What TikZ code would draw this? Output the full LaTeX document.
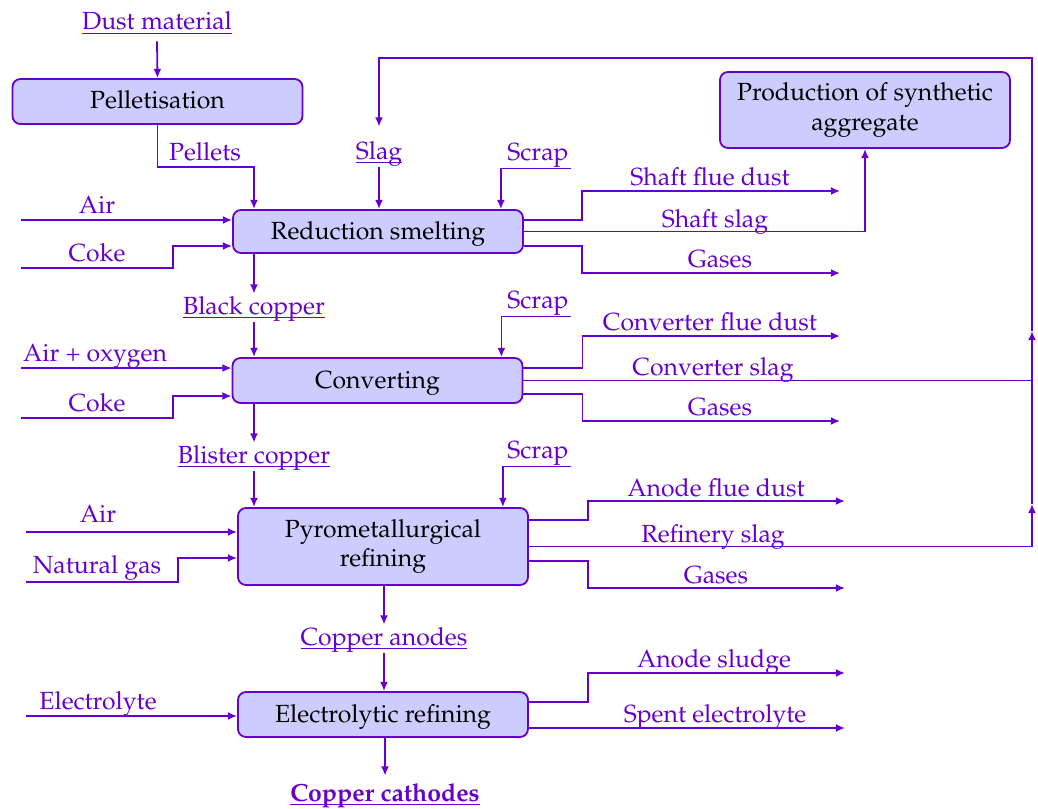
\documentclass[tikz,border=0pt]{standalone}
\usepackage[T1]{fontenc}
\usepackage{mathpazo}
\usetikzlibrary{arrows.meta}
\definecolor{flowc}{RGB}{102,0,204}
\definecolor{boxc}{RGB}{204,204,255}
% underline that cuts the descenders
\newcommand{\undl}[1]{\setbox0\hbox{#1}\rlap{\rule[-2.2pt]{\wd0}{0.6pt}}\box0}

\begin{document}
\begin{tikzpicture}[x=0.5pt,y=-0.5pt,
	font=\fontsize{12.4}{14.8}\selectfont,
	box/.style={draw=flowc,fill=boxc,rounded corners=4pt,line width=0.9pt,
		minimum width=145pt,align=center,text=black},
	onebox/.style={box,text height=10pt,text depth=2.5pt},
	lab/.style={text=flowc,anchor=base,inner sep=1pt,text height=9pt,text depth=3pt},
	flow/.style={draw=flowc,line width=0.9pt,-{Latex[length=4.6pt,width=4pt]}},
	link/.style={draw=flowc,line width=0.9pt}]
	\useasboundingbox (0,0) rectangle (1038,808);
	% Boxes
	\node[onebox,minimum height=22.5pt] (pellet) at (157.5,101.5) {Pelletisation};
	\node[onebox,minimum height=21.5pt] (reduct) at (378,231.5) {Reduction smelting};
	\node[box,minimum height=38pt] (prod) at (865,110) {Production of synthetic\\aggregate};
	\node[onebox,minimum height=22.5pt] (conv) at (377.5,380.5) {Converting};
	\node[box,minimum height=38.5pt] (pyro) at (383,546.5) {Pyrometallurgical\\refining};
	\node[onebox,minimum height=22.5pt] (electro) at (383,714.5) {Electrolytic refining};
	% Labels
	\node[lab] (dust) at (157,30) {\undl{Dust material}};
	\node[lab] (pellets) at (205,160) {Pellets};
	\node[lab] (slag) at (379,159) {\undl{Slag}};
	\node[lab] (scrap1) at (538,160) {Scrap};
	\node[lab] (air1) at (97,213) {Air};
	\node[lab] (coke1) at (97,261) {Coke};
	\node[lab] (sfd) at (710,185) {Shaft flue dust};
	\node[lab] (ssl) at (715,227) {Shaft slag};
	\node[lab] (gas1) at (720,267) {Gases};
	\node[lab] (black) at (254,314) {\undl{Black copper}};
	\node[lab] (scrap2) at (538,308) {Scrap};
	\node[lab] (cfd) at (710,330) {Converter flue dust};
	\node[lab] (airox) at (95,361) {Air + oxygen};
	\node[lab] (csl) at (713,375) {Converter slag};
	\node[lab] (coke2) at (97,411) {Coke};
	\node[lab] (gas2) at (720,415) {Gases};
	\node[lab] (blister) at (254,463) {\undl{Blister copper}};
	\node[lab] (scrap3) at (538,458) {Scrap};
	\node[lab] (afd) at (716,496) {Anode flue dust};
	\node[lab] (air3) at (98,522) {Air};
	\node[lab] (rsl) at (713,542) {Refinery slag};
	\node[lab] (natgas) at (97,573) {Natural gas};
	\node[lab] (gas3) at (716,583) {Gases};
	\node[lab] (anodes) at (384,645) {\undl{Copper anodes}};
	\node[lab] (sludge) at (714,667) {Anode sludge};
	\node[lab] (electrolyte) at (98,709) {Electrolyte};
	\node[lab] (spent) at (715,722) {Spent electrolyte};
	\node[lab] (cathodes) at (385,801) {\undl{\textbf{Copper cathodes}}};
	% Pelletisation
	\draw[flow] ([yshift=-1.5pt]dust.south) -- (pellet.north);
	\coordinate (pj) at (254,167);
	\draw[flow] (pellet.south) |- (pj) -- (pj |- reduct.north);
	% Reduction smelting
	\draw[flow] (slag.south) -- (slag.south |- reduct.north);
	\draw[flow] (scrap1.south east) -| ([xshift=-11.5pt]reduct.north east);
	\draw[flow] (21,220) -- ([yshift=5.75pt]reduct.west);
	\draw[flow] (21,268) -- ++(152,0) |- ([yshift=-7.25pt]reduct.west);
	\draw[flow] ([yshift=5.75pt]reduct.east) -- ++(58,0) |- (840,191);
	\draw[flow] (reduct.east) -| (prod.south);
	\draw[flow] ([yshift=-7.25pt]reduct.east) -- ++(58,0) |- (840,273);
	% Converting
	\draw[flow] (black.north |- reduct.south) -- (black.north);
	\draw[flow] (black.south) -- (black.south |- conv.north);
	\draw[flow] (scrap2.south east) -| ([xshift=-11pt]conv.north east);
	\draw[flow] (21,368) -- ([yshift=6.25pt]conv.west);
	\draw[flow] (21,418) -- ++(152,0) |- ([yshift=-7.75pt]conv.west);
	\draw[flow] ([yshift=6.25pt]conv.east) -- ++(59,0) |- (840,336);
	\draw[flow] ([yshift=-6.75pt]conv.east) -- ++(59,0) |- (840,421);
	% Slag return
	\draw[flow] (conv.east) -- (1032,380.5) -- (1032,331);
	\draw[flow] (1032,331) |- (379,58) -- ([yshift=6pt]slag.north);
	% Pyrometallurgical refining
	\draw[flow] (blister.north |- conv.south) -- (blister.north);
	\draw[flow] (blister.south) -- (blister.south |- pyro.north);
	\draw[flow] (scrap3.south east) -| ([xshift=-13pt]pyro.north east);
	\draw[flow] (26,532) -- ([yshift=7.25pt]pyro.west);
	\draw[flow] (26,582) -- ++(152,0) |- ([yshift=-5.75pt]pyro.west);
	\draw[flow] ([yshift=13.25pt]pyro.east) -- ++(59,0) |- (845,501);
	\draw[flow] (pyro.east) -- (1032,546.5) -- (1032,504);
	\draw[link] (1032,504) -- (1032,380.5);
	\draw[flow] ([yshift=-7.25pt]pyro.east) -- ++(59,0) |- (845,588);
	% Electrolytic refining
	\draw[flow] (anodes.north |- pyro.south) -- (anodes.north);
	\draw[flow] (anodes.south) -- (anodes.south |- electro.north);
	\draw[flow] (26,716) -- ([yshift=-0.75pt]electro.west);
	\draw[flow] ([yshift=6.25pt]electro.east) -- ++(59,0) |- (845,673);
	\draw[flow] ([yshift=-6.75pt]electro.east) -- (845,728);
	\draw[flow] (cathodes.north |- electro.south) -- ([yshift=2.5pt]cathodes.north);
\end{tikzpicture}
\end{document}
